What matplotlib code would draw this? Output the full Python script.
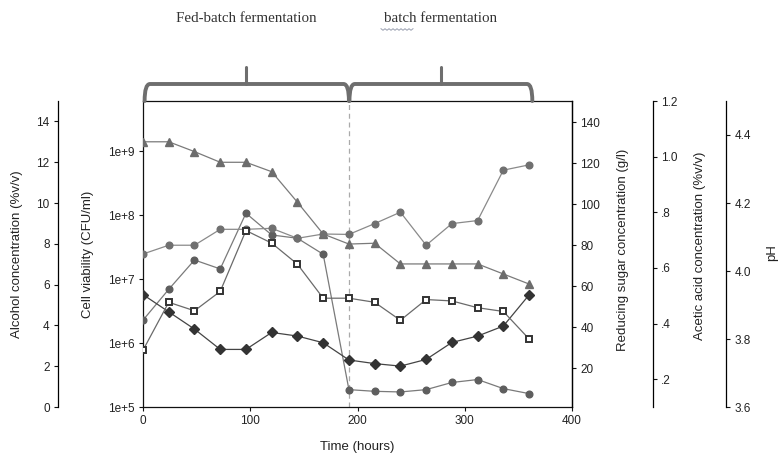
import matplotlib
matplotlib.use('Agg')
import matplotlib.pyplot as plt
import matplotlib.ticker as mticker
import matplotlib.transforms as mtransforms
from matplotlib.path import Path
from matplotlib.patches import PathPatch
from matplotlib.lines import Line2D

plt.rcParams['font.family'] = ['Liberation Sans', 'DejaVu Sans']

# ---------------- data ----------------
time_h = [0, 24, 48, 72, 96, 120, 144, 168, 192, 216, 240, 264, 288, 312, 336, 360]
reducing_sugar = [130.5, 130.5, 125.7, 120.5, 120.5, 115.9, 101.0, 85.5, 80.6, 81.0,
                  70.9, 70.9, 70.9, 70.9, 66.0, 61.1]
alcohol = [7.50, 7.93, 7.93, 8.71, 8.71, 8.76, 8.27, 8.48, 8.46, 8.99,
           9.55, 7.93, 8.99, 9.14, 11.61, 11.87]
cell_viability = [2.29e6, 6.95e6, 2.0e7, 1.45e7, 1.08e8, 4.93e7, 4.38e7, 2.46e7, 1.87e5, 1.76e5,
                  1.72e5, 1.87e5, 2.42e5, 2.69e5, 1.94e5, 1.62e5]
ph = [3.767, 3.908, 3.883, 3.940, 4.119, 4.082, 4.020, 3.920, 3.920, 3.908,
      3.855, 3.916, 3.912, 3.892, 3.881, 3.800]
acetic_acid = [0.504, 0.442, 0.380, 0.307, 0.307, 0.368, 0.355, 0.331, 0.269, 0.256,
               0.247, 0.271, 0.332, 0.355, 0.391, 0.503]

phase_names = ["Fed-batch fermentation", "batch fermentation"]
phase_edges = [0, 192, 363]

x_ticks = [0, 100, 200, 300, 400]
viab_ticks = [1e5, 1e6, 1e7, 1e8, 1e9]
viab_labels = ["1e+5", "1e+6", "1e+7", "1e+8", "1e+9"]
alc_ticks = [0, 2, 4, 6, 8, 10, 12, 14]
sugar_ticks = [20, 40, 60, 80, 100, 120, 140]
acid_ticks = [0.2, 0.4, 0.6, 0.8, 1.0, 1.2]
acid_labels = [".2", ".4", ".6", ".8", "1.0", "1.2"]
ph_ticks = [3.6, 3.8, 4.0, 4.2, 4.4]
ph_labels = ["3.6", "3.8", "4.0", "4.2", "4.4"]

# ---------------- figure ----------------
W, H = 781, 457
fig = plt.figure(figsize=(W / 100, H / 100), dpi=100)
L, R, T, B = 143, 572, 101, 407
ax = fig.add_axes([L / W, 1 - B / H, (R - L) / W, (B - T) / H])
axw = R - L

tick_kw = dict(labelsize=8.5, length=3, width=0.8, pad=3, colors='#111', labelcolor='#222')
lab_fs = 9.5

# main axis: cell viability (log)
ax.set_yscale('log')
ax.set_ylim(1e5, 10 ** 9.79)
ax.set_xlim(0, 400)
ax.set_yticks(viab_ticks)
ax.set_yticklabels(viab_labels)
ax.yaxis.set_minor_locator(mticker.NullLocator())
ax.set_xticks(x_ticks)
ax.tick_params(axis='both', **tick_kw)
for s in ax.spines.values():
    s.set_linewidth(0.9)
    s.set_color('#111')

# sugar axis (right)
ax_s = ax.twinx()
ax_s.set_ylim(1.1, 150.4)
ax_s.set_yticks(sugar_ticks)
ax_s.tick_params(axis='y', **tick_kw)
for k in ['top', 'left', 'bottom']:
    ax_s.spines[k].set_visible(False)
ax_s.spines['right'].set_linewidth(0.9)

# alcohol axis (far left)
ax_a = ax.twinx()
ax_a.set_ylim(0, 15)
ax_a.yaxis.tick_left()
ax_a.yaxis.set_label_position('left')
for k in ['top', 'right', 'bottom']:
    ax_a.spines[k].set_visible(False)
ax_a.spines['left'].set_visible(True)
ax_a.spines['left'].set_position(('axes', (58 - L) / axw))
ax_a.spines['left'].set_linewidth(0.9)
ax_a.set_yticks(alc_ticks)
ax_a.tick_params(axis='y', **tick_kw)

# acetic acid axis
ax_c = ax.twinx()
ax_c.set_ylim(0.1, 1.2)
for k in ['top', 'left', 'bottom']:
    ax_c.spines[k].set_visible(False)
ax_c.spines['right'].set_position(('axes', (653 - L) / axw))
ax_c.spines['right'].set_linewidth(0.9)
ax_c.set_yticks(acid_ticks)
ax_c.set_yticklabels(acid_labels)
ax_c.tick_params(axis='y', **tick_kw)

# pH axis
ax_p = ax.twinx()
ax_p.set_ylim(3.6, 4.5)
for k in ['top', 'left', 'bottom']:
    ax_p.spines[k].set_visible(False)
ax_p.spines['right'].set_position(('axes', (726 - L) / axw))
ax_p.spines['right'].set_linewidth(0.9)
ax_p.set_yticks(ph_ticks)
ax_p.set_yticklabels(ph_labels)
ax_p.tick_params(axis='y', **tick_kw)

# ---------------- series ----------------
ax.axvline(192, color='#aaaaaa', lw=0.9, ls=(0, (4, 3)), zorder=1)

ax_s.plot(time_h, reducing_sugar, color='#7a7a7a', lw=0.9, marker='^', ms=6,
          mfc='#6c6c6c', mec='#6c6c6c', zorder=3)
ax_a.plot(time_h, alcohol, color='#8a8a8a', lw=0.9, marker='o', ms=4.8,
          mfc='#707070', mec='#707070', zorder=3)
ax.plot(time_h, cell_viability, color='#7a7a7a', lw=0.9, marker='o', ms=4.8,
        mfc='#5e5e5e', mec='#5e5e5e', zorder=3)
ax_p.plot(time_h, ph, color='#6a6a6a', lw=0.9, marker='s', ms=5,
          mfc='white', mec='#333333', mew=1.4, zorder=3)
ax_c.plot(time_h, acetic_acid, color='#444444', lw=0.9, marker='D', ms=5.3,
          mfc='#333333', mec='#333333', zorder=3)

# ---------------- labels ----------------
def ylab(a, text, xpix, ypix=254):
    a.set_ylabel(text, fontsize=lab_fs, color='#222', va='center', ha='center')
    a.yaxis.set_label_coords((xpix - L) / axw, (B - ypix) / (B - T))

ylab(ax_a, "Alcohol concentration (%v/v)", 17)
ylab(ax, "Cell viability (CFU/ml)", 88)
ylab(ax_s, "Reducing sugar concentration (g/l)", 623, 250)
ylab(ax_c, "Acetic acid concentration (%v/v)", 700, 246)
ylab(ax_p, "pH", 772, 253)
ax.set_xlabel("Time (hours)", fontsize=lab_fs, color='#222', labelpad=10)

# ---------------- phase braces ----------------
btr = mtransforms.blended_transform_factory(ax.transData, fig.transFigure)
ym = 1 - 84 / H
yb = 1 - 101 / H
yt = 1 - 67 / H
ytext = 1 - 18.5 / H
rx = 5.0
for i in range(2):
    x0, x1 = phase_edges[i] + (1.5 if i == 0 else 0.5), phase_edges[i + 1]
    xt = (phase_edges[i] + phase_edges[i + 1]) / 2
    verts = [(x0, yb), (x0, ym), (x0 + rx, ym), (x1 - rx, ym), (x1, ym), (x1, yb)]
    codes = [Path.MOVETO, Path.CURVE3, Path.CURVE3, Path.LINETO, Path.CURVE3, Path.CURVE3]
    pp = PathPatch(Path(verts, codes), transform=btr, fill=False, ec='#6e6e6e',
                   lw=2.8, capstyle='round', joinstyle='round', clip_on=False)
    fig.add_artist(pp)
    fig.add_artist(Line2D([xt, xt], [ym, yt], transform=btr, color='#6e6e6e',
                          lw=2.2, solid_capstyle='round', clip_on=False))
    fig.text(xt, ytext, phase_names[i], transform=btr, ha='center', va='center',
             family=['Liberation Serif', 'DejaVu Serif'], fontsize=10.8, color='#333')

# spell-check style wavy underline under "batch"
wx = [381 + k * 2 for k in range(17)]
wy = [1 - (29.5 + (0.8 if k % 2 else -0.8)) / H for k in range(17)]
fig.add_artist(Line2D([v / W for v in wx], wy, transform=fig.transFigure,
                      color='#9aa0b0', lw=0.7))

fig.savefig('out.png', dpi=100)
